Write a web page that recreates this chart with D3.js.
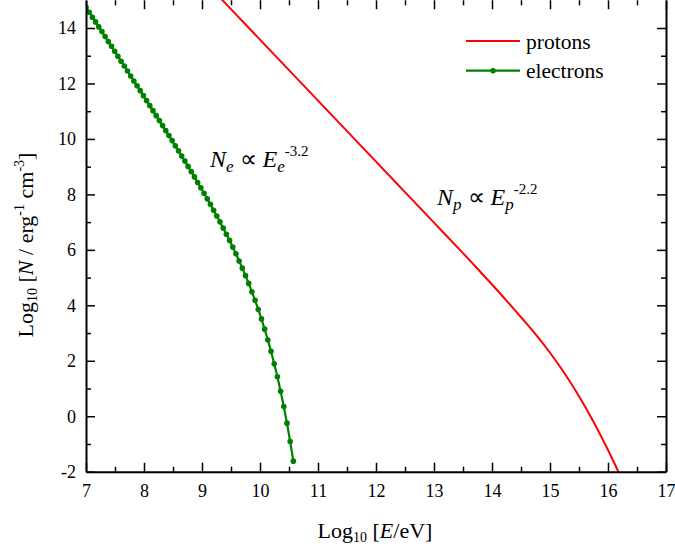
<!DOCTYPE html>
<html><head><meta charset="utf-8">
<script src="https://cdn.jsdelivr.net/npm/d3@7"></script>
<style>
body{margin:0;background:#fff;}
svg{display:block;}
svg text{font-family:"Liberation Serif","Times New Roman",serif !important;}
</style></head>
<body><svg id="c" width="675" height="549"></svg>
<script>
const xTicks=[7,8,9,10,11,12,13,14,15,16,17];
const yTicks=[-2,0,2,4,6,8,10,12,14];
const xMinor=[7.5,8.5,9.5,10.5,11.5,12.5,13.5,14.5,15.5,16.5];
const yMinor=[-1,1,3,5,7,9,11,13];

const protonX=[9.3,9.5,10,10.5,11,11.5,12,12.5,13,13.5,13.75,14,14.25,14.5,14.75,15,15.25,15.5,15.75,16,16.1,16.2];
const protonY=[15.12,14.68,13.58,12.48,11.38,10.28,9.18,8.08,6.98,5.88,5.32,4.75,4.17,3.57,2.96,2.29,1.55,0.72,-0.20,-1.22,-1.65,-2.09];

const electronX=[7,7.055,7.11,7.165,7.22,7.275,7.33,7.385,7.44,7.495,7.55,7.605,7.66,7.715,7.77,7.825,7.88,7.935,7.99,8.045,8.1,8.155,8.21,8.265,8.32,8.375,8.43,8.485,8.54,8.595,8.65,8.705,8.76,8.815,8.87,8.925,8.98,9.035,9.09,9.145,9.2,9.255,9.31,9.365,9.42,9.475,9.53,9.585,9.64,9.695,9.75,9.805,9.86,9.915,9.97,10.025,10.08,10.135,10.19,10.245,10.3,10.355,10.41,10.465,10.52,10.575];
const electronY=[14.75,14.57,14.39,14.22,14.04,13.87,13.69,13.51,13.34,13.16,12.98,12.80,12.63,12.45,12.27,12.09,11.92,11.74,11.56,11.38,11.20,11.02,10.84,10.66,10.48,10.30,10.12,9.94,9.75,9.57,9.38,9.20,9.01,8.82,8.63,8.43,8.24,8.04,7.84,7.64,7.43,7.22,7.01,6.79,6.56,6.34,6.10,5.86,5.60,5.34,5.07,4.79,4.49,4.18,3.85,3.51,3.14,2.75,2.34,1.89,1.42,0.90,0.35,-0.25,-0.91,-1.62];

const seriesNames=["protons","electrons"];
const red="#ff0000", green="#008000";

const svg=d3.select("#c");
const L=86,R=666,T=0.27,B=471.7;
const x=d3.scaleLinear().domain([7,17]).range([L,R]);
const y=d3.scaleLinear().domain([-2,15]).range([B,T]);

svg.append("defs").append("clipPath").attr("id","clip").append("rect")
  .attr("x",L).attr("y",0).attr("width",R-L).attr("height",B);

const protons=protonX.map((v,i)=>[v,protonY[i]]);
const electrons=electronX.map((v,i)=>[v,electronY[i]]);

const g=svg.append("g").attr("clip-path","url(#clip)");
g.append("path").datum(protons)
  .attr("d",d3.line().x(d=>x(d[0])).y(d=>y(d[1])).curve(d3.curveCatmullRom.alpha(0.5)))
  .attr("fill","none").attr("stroke",red).attr("stroke-width",2);
g.append("path").datum(electrons)
  .attr("d",d3.line().x(d=>x(d[0])).y(d=>y(d[1])))
  .attr("fill","none").attr("stroke",green).attr("stroke-width",2.2);
g.selectAll("circle.e").data(electrons).join("circle")
  .attr("cx",d=>x(d[0])).attr("cy",d=>y(d[1])).attr("r",2.8).attr("fill",green);

function styleAxis(sel){
  sel.attr("font-family",null);
  sel.selectAll(".domain").attr("stroke","#000").attr("stroke-width",2);
  sel.selectAll(".tick line").attr("stroke","#000").attr("stroke-width",1.5);
  sel.selectAll("text").attr("font-size",18).attr("fill","#000");
}
// bottom
const ab=svg.append("g").attr("transform",`translate(0,${B})`)
  .call(d3.axisBottom(x).tickValues(xTicks).tickFormat(d3.format("d")).tickSizeInner(-9).tickSizeOuter(0).tickPadding(13));
styleAxis(ab);
const abm=svg.append("g").attr("transform",`translate(0,${B})`)
  .call(d3.axisBottom(x).tickValues(xMinor).tickFormat("").tickSizeInner(-5).tickSizeOuter(0));
styleAxis(abm); abm.select(".domain").remove();
// top
const at=svg.append("g").attr("transform",`translate(0,${T})`)
  .call(d3.axisTop(x).tickValues(xTicks).tickFormat("").tickSizeInner(-9).tickSizeOuter(0));
styleAxis(at); at.select(".domain").remove();
const atm=svg.append("g").attr("transform",`translate(0,${T})`)
  .call(d3.axisTop(x).tickValues(xMinor).tickFormat("").tickSizeInner(-5).tickSizeOuter(0));
styleAxis(atm); atm.select(".domain").remove();
// left
const al=svg.append("g").attr("transform",`translate(${L},0)`)
  .call(d3.axisLeft(y).tickValues(yTicks).tickFormat(d3.format("d")).tickSizeInner(-9).tickSizeOuter(0).tickPadding(10));
styleAxis(al);
al.selectAll("text").text(d=>d<0?"-"+Math.abs(d):String(d));
const alm=svg.append("g").attr("transform",`translate(${L},0)`)
  .call(d3.axisLeft(y).tickValues(yMinor).tickFormat("").tickSizeInner(-5).tickSizeOuter(0));
styleAxis(alm); alm.select(".domain").remove();
// right
const ar=svg.append("g").attr("transform",`translate(${R},0)`)
  .call(d3.axisRight(y).tickValues(yTicks).tickFormat("").tickSizeInner(-9).tickSizeOuter(0));
styleAxis(ar);
const arm=svg.append("g").attr("transform",`translate(${R},0)`)
  .call(d3.axisRight(y).tickValues(yMinor).tickFormat("").tickSizeInner(-5).tickSizeOuter(0));
styleAxis(arm); arm.select(".domain").remove();

// axis titles
const xt=svg.append("text").attr("x",375).attr("y",538).attr("text-anchor","middle")
  .attr("font-size",22).attr("fill","#000");
xt.append("tspan").text("Log");
xt.append("tspan").attr("font-size",14).attr("dy",4).text("10");
xt.append("tspan").attr("dy",-4).text(" [");
xt.append("tspan").attr("font-style","italic").text("E");
xt.append("tspan").text("/eV]");

const yt=svg.append("text").attr("transform","translate(33,245) rotate(-90)").attr("text-anchor","middle")
  .attr("font-size",22).attr("fill","#000");
yt.append("tspan").text("Log");
yt.append("tspan").attr("font-size",14).attr("dy",4).text("10");
yt.append("tspan").attr("dy",-4).text(" [");
yt.append("tspan").attr("font-style","italic").text("N");
yt.append("tspan").text(" / erg");
yt.append("tspan").attr("font-size",14).attr("dy",-9).text("-1");
yt.append("tspan").attr("dy",9).text(" cm");
yt.append("tspan").attr("font-size",14).attr("dy",-9).text("-3");
yt.append("tspan").attr("dy",9).text("]");

// legend
const leg=svg.append("g");
leg.append("line").attr("x1",466).attr("x2",520).attr("y1",41).attr("y2",41).attr("stroke",red).attr("stroke-width",2);
leg.append("text").attr("x",526).attr("y",48.5).attr("font-size",21.5).attr("fill","#000").text(seriesNames[0]);
leg.append("line").attr("x1",466).attr("x2",520).attr("y1",70.7).attr("y2",70.7).attr("stroke",green).attr("stroke-width",2.2);
leg.append("circle").attr("cx",493).attr("cy",70.7).attr("r",2.8).attr("fill",green);
leg.append("text").attr("x",526).attr("y",78).attr("font-size",21.5).attr("fill","#000").text(seriesNames[1]);

// annotations
function annot(px,py,sub,exp){
  const t=svg.append("text").attr("x",px).attr("y",py).attr("font-size",24).attr("fill","#000");
  t.append("tspan").attr("font-style","italic").text("N");
  t.append("tspan").attr("font-style","italic").attr("font-size",17).attr("dy",5).text(sub);
  t.append("tspan").attr("dy",-5).text(" \u221D ");
  t.append("tspan").attr("font-style","italic").text("E");
  t.append("tspan").attr("font-style","italic").attr("font-size",17).attr("dy",5).text(sub);
  t.append("tspan").attr("font-size",15).attr("dy",-16).text(exp);
}
annot(210,167,"e","-3.2");
annot(437,205,"p","-2.2");
</script></body></html>
